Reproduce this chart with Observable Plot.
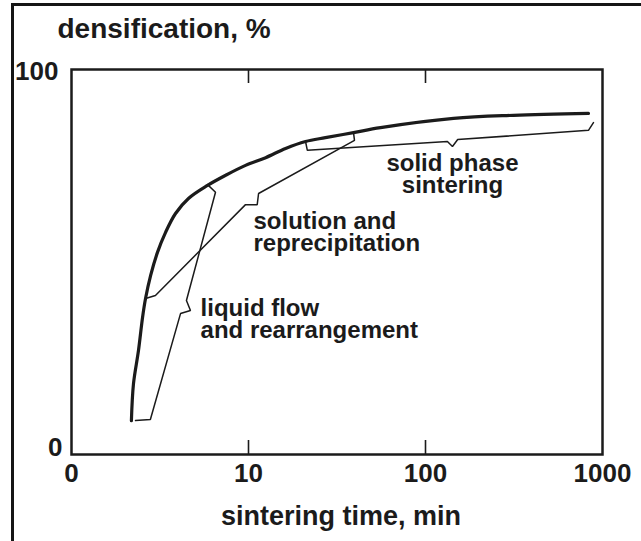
<!DOCTYPE html>
<html><head><meta charset="utf-8">
<script src="https://cdn.jsdelivr.net/npm/d3@7"></script>
<script src="https://cdn.jsdelivr.net/npm/@observablehq/plot@0.6"></script>
<style>
body{margin:0;background:#fff;}
#wrap{position:relative;width:641px;height:541px;overflow:hidden;background:#fff;}
#border{position:absolute;left:11px;top:3px;right:-10px;bottom:-10px;border-top:3.5px solid #151515;border-left:3px solid #151515;pointer-events:none;}
</style></head><body><div id="wrap"><div id="border"></div></div>
<script>
// x axis: sintering time (min), log scale; first tick drawn as "0"
const xTicks = [1, 10, 100, 1000];
const xTickLabels = ["0", "10", "100", "1000"];
const innerTicks = [10, 100];
const yTicks = [0, 100];

// overall densification curve
const curveTime = [2.18, 2.24, 2.39, 2.52, 2.62, 2.80, 3.06, 3.40, 3.87, 4.58, 5.87, 7.41, 9.62, 12.5, 16.2, 21.0, 27.2, 39.2, 55.7, 144, 314, 833];
const curveDens = [8.8, 18.4, 27.0, 35.6, 40.5, 46.5, 52.5, 57.7, 62.6, 66.5, 69.9, 72.5, 75.1, 77.1, 79.5, 81.3, 82.3, 83.6, 84.9, 87.3, 88.1, 88.6];

// brace: liquid flow and rearrangement
const liquidTime = [2.30, 2.79, 4.13, 4.70, 4.46, 6.51, 5.87];
const liquidDens = [8.8, 9.1, 36.6, 37.4, 40.0, 68.1, 70.1];

// brace: solution and reprecipitation
const solutionTime = [2.62, 2.98, 9.62, 11.2, 11.4, 39.7, 39.2];
const solutionDens = [40.5, 41.3, 64.9, 64.9, 67.8, 81.6, 83.6];

// brace: solid phase sintering
const solidTime = [21.0, 21.5, 133, 142, 152, 833, 889];
const solidDens = [81.3, 79.0, 81.3, 80.0, 81.8, 84.2, 86.2];

// stage labels
const centeredLabels = [{t: "solid phase\nsintering", x: 142, y: 77.7}];
const leftLabels = [
  {t: "solution and\nreprecipitation", x: 10.67, y: 62.6},
  {t: "liquid flow\nand rearrangement", x: 5.36, y: 40.0}
];

const toRows = (xs, ys) => xs.map((x, i) => ({x, y: ys[i]}));
const curve = toRows(curveTime, curveDens);
const liquid = toRows(liquidTime, liquidDens);
const solution = toRows(solutionTime, solutionDens);
const solid = toRows(solidTime, solidDens);

const ink = "#1b1b1b";
const font = "'Liberation Sans', Arial, Helvetica, sans-serif";
const labelStyle = {x: "x", y: "y", text: "t", lineAnchor: "top", lineHeight: 0.92, fontSize: 24, fontWeight: "bold", fill: ink};

const chart = Plot.plot({
  width: 641, height: 541,
  marginLeft: 71, marginRight: 39, marginTop: 69, marginBottom: 87,
  style: {fontFamily: font, fontWeight: "bold", color: ink, background: "transparent", overflow: "visible"},
  x: {type: "log", domain: [1, 1000]},
  y: {domain: [0, 100]},
  marks: [
    Plot.axisX(xTicks, {tickSize: 0, tickPadding: 9, fontSize: 26, fill: ink, tickFormat: d => xTickLabels[xTicks.indexOf(d)], label: null}),
    Plot.axisY([100], {tickSize: 0, tickPadding: 13, fontSize: 26, fill: ink, dy: 2, label: null}),
    Plot.axisY([0], {tickSize: 0, tickPadding: 9, fontSize: 26, fill: ink, dy: -7, label: null}),
    Plot.frame({stroke: ink, strokeWidth: 2.5}),
    Plot.tickX(innerTicks, {x: d => d, insetTop: 371, stroke: ink, strokeWidth: 1.6}),
    Plot.tickX(innerTicks, {x: d => d, insetBottom: 371, stroke: ink, strokeWidth: 1.6}),
    Plot.line(liquid, {x: "x", y: "y", stroke: ink, strokeWidth: 1.5, strokeLinejoin: "miter"}),
    Plot.line(solution, {x: "x", y: "y", stroke: ink, strokeWidth: 1.5, strokeLinejoin: "miter"}),
    Plot.line(solid, {x: "x", y: "y", stroke: ink, strokeWidth: 1.5, strokeLinejoin: "miter"}),
    Plot.line(curve, {x: "x", y: "y", stroke: ink, strokeWidth: 3.2, curve: "catmull-rom"}),
    Plot.text(centeredLabels, {...labelStyle, textAnchor: "middle"}),
    Plot.text(leftLabels, {...labelStyle, textAnchor: "start"}),
    Plot.text(["densification, %"], {frameAnchor: "top-left", dx: -14, dy: -32, lineAnchor: "bottom", textAnchor: "start", fontSize: 28, fontWeight: "bold", fill: ink}),
    Plot.text(["sintering time, min"], {frameAnchor: "bottom", dx: 4, dy: 70, lineAnchor: "bottom", fontSize: 27, fontWeight: "bold", fill: ink})
  ]
});
document.getElementById("wrap").appendChild(chart);
</script>
</body></html>
